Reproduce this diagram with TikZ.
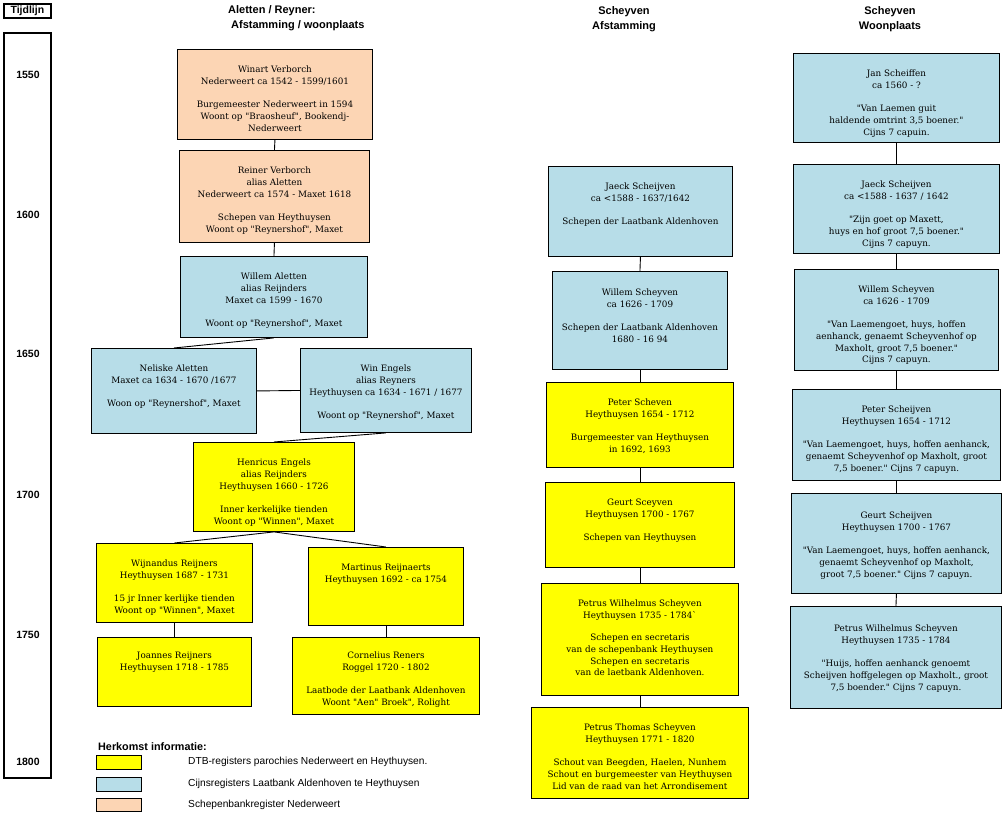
\documentclass[tikz,border=0pt]{standalone}
\usepackage{fontspec}
\setmainfont{DejaVu Serif}[Ligatures=TeXOff]
\setsansfont{Liberation Sans}
\usepackage{xcolor}
\usepackage{tikz}
\usetikzlibrary{positioning}

\begin{document}
\begin{tikzpicture}[x=1pt,y=-1pt,
		kader/.style={draw=black, line width=0.9pt, anchor=north west, inner sep=0pt},
		geel/.style={kader, fill=mygeel},
		blauw/.style={kader, fill=myblauw},
		zalm/.style={kader, fill=myzalm},
		tekst/.style={align=center, inner sep=0pt, font=\fontsize{8.8}{11.8}\selectfont},
		lijn/.style={draw=black, line width=0.9pt},
		kop/.style={align=center, inner sep=0pt, font=\sffamily\bfseries\fontsize{11}{15}\selectfont},
		jaartal/.style={inner sep=0pt, font=\sffamily\bfseries\fontsize{10.5}{12}\selectfont},
		uitleg/.style={anchor=west, inner sep=0pt, font=\sffamily\fontsize{10.2}{12}\selectfont}]
				% kleuren
				\definecolor{mygeel}{RGB}{255,255,0}
				\definecolor{myblauw}{RGB}{183,221,232}
				\definecolor{myzalm}{RGB}{252,213,180}
				\useasboundingbox (0,0) rectangle (1007,821);
				
				% tijdlijn
				\node[draw, line width=1.8pt, anchor=north west, minimum width=47, minimum height=14, inner sep=0pt] (tijdkop) at (3,3) {};
				\node[jaartal] (tijdkop-t) at (tijdkop.center) {Tijdlijn};
				\node[draw, line width=1.8pt, anchor=north west, minimum width=47, minimum height=745, inner sep=0pt] (tijdas) at (3,32) {};
				\foreach \jaar/\ypos in {1550/75,1600/215,1650/354,1700/495,1750/635,1800/762}
				\node[jaartal] (j\jaar) at (28,\ypos) {\jaar};
				
				% koppen
				\node[kop, anchor=north west, align=left] (kopA) at (228,5) {Aletten / Reyner:\\\hspace*{3pt}Afstamming / woonplaats};
				\node[kop] (kopB) at (624,19) {Scheyven\\Afstamming};
				\node[kop] (kopC) at (890,19) {Scheyven\\Woonplaats};
				
				% Aletten / Reyner
				\node[zalm, minimum width=195, minimum height=90] (winart) at (177,49) {};
				\node[tekst, below=17pt of winart.north] (winart-t) {Winart Verborch\\Nederweert ca 1542 - 1599/1601\\[11pt]Burgemeester Nederweert in 1594\\Woont op "Braosheuf", Bookendj-\\Nederweert};
				\node[zalm, minimum width=190, minimum height=92] (reiner) at (179,150) {};
				\node[tekst, below=17pt of reiner.north] (reiner-t) {Reiner Verborch\\alias Aletten\\Nederweert ca 1574 - Maxet 1618\\[11pt]Schepen van Heythuysen\\Woont op "Reynershof", Maxet};
				\node[blauw, minimum width=187, minimum height=81] (willemA) at (180,256) {};
				\node[tekst, below=17pt of willemA.north] (willemA-t) {Willem Aletten\\alias Reijnders\\Maxet ca 1599 - 1670\\[11pt]Woont op "Reynershof", Maxet};
				\node[blauw, minimum width=165, minimum height=85] (neliske) at (91,348) {};
				\node[tekst, below=17pt of neliske.north] (neliske-t) {Neliske Aletten\\Maxet ca 1634 - 1670 /1677\\[11pt]Woon op "Reynershof", Maxet};
				\node[blauw, minimum width=171, minimum height=84] (win) at (300,348) {};
				\node[tekst, below=17pt of win.north] (win-t) {Win Engels\\alias Reyners\\Heythuysen ca 1634 - 1671 / 1677\\[11pt]Woont op "Reynershof", Maxet};
				\node[geel, minimum width=161, minimum height=89] (henricus) at (193,442) {};
				\node[tekst, below=17pt of henricus.north] (henricus-t) {Henricus Engels\\alias Reijnders\\Heythuysen 1660 - 1726\\[11pt]Inner kerkelijke tienden\\Woont op "Winnen", Maxet};
				\node[geel, minimum width=156, minimum height=79] (wijnandus) at (96,543) {};
				\node[tekst, below=17pt of wijnandus.north] (wijnandus-t) {Wijnandus Reijners\\Heythuysen 1687 - 1731\\[11pt]15 jr Inner kerlijke tienden\\Woont op "Winnen", Maxet};
				\node[geel, minimum width=155, minimum height=78] (martinus) at (308,547) {};
				\node[tekst, below=17pt of martinus.north] (martinus-t) {Martinus Reijnaerts\\Heythuysen 1692 - ca 1754};
				\node[geel, minimum width=154, minimum height=69] (joannes) at (97,637) {};
				\node[tekst, below=15pt of joannes.north] (joannes-t) {Joannes Reijners\\Heythuysen 1718 - 1785};
				\node[geel, minimum width=187, minimum height=77] (cornelius) at (292,637) {};
				\node[tekst, below=15pt of cornelius.north] (cornelius-t) {Cornelius Reners\\Roggel 1720 - 1802\\[11pt]Laatbode der Laatbank Aldenhoven\\Woont "Aen" Broek", Rolight};
				
				\draw[lijn] (winart.south) -- (reiner.north);
				\draw[lijn] (reiner.south) -- (willemA.north);
				\draw[lijn] (willemA.south) -- (neliske.north);
				\draw[lijn] (neliske.east) -- (win.west);
				\draw[lijn] (win.south) -- (henricus.north);
				\draw[lijn] (henricus.south) -- (wijnandus.north);
				\draw[lijn] (henricus.south) -- (martinus.north);
				\draw[lijn] (wijnandus.south) -- (joannes.north);
				\draw[lijn] (martinus.south) -- (cornelius.north);
				
				% Scheyven afstamming
				\node[blauw, minimum width=184, minimum height=90] (jaeckA) at (548,166) {};
				\node[tekst, below=17pt of jaeckA.north] (jaeckA-t) {Jaeck Scheijven\\ca <1588 - 1637/1642\\[11pt]Schepen der Laatbank Aldenhoven};
				\node[blauw, minimum width=175, minimum height=98] (willemS) at (552,271) {};
				\node[tekst, below=18pt of willemS.north] (willemS-t) {Willem Scheyven\\ca 1626 - 1709\\[11pt]Schepen der Laatbank Aldenhoven\\1680 - 16 94};
				\node[geel, minimum width=187, minimum height=85] (peterA) at (546,382) {};
				\node[tekst, below=17pt of peterA.north] (peterA-t) {Peter Scheven\\Heythuysen 1654 - 1712\\[11pt]Burgemeester van Heythuysen\\in 1692, 1693};
				\node[geel, minimum width=189, minimum height=85] (geurtA) at (545,482) {};
				\node[tekst, below=17pt of geurtA.north] (geurtA-t) {Geurt Sceyven\\Heythuysen 1700 - 1767\\[11pt]Schepen van Heythuysen};
				\node[geel, minimum width=197, minimum height=112] (petrusA) at (541,583) {};
				\node[tekst, below=17pt of petrusA.north] (petrusA-t) {Petrus Wilhelmus Scheyven\\Heythuysen 1735 - 1784`\\[10pt]Schepen en secretaris\\van de schepenbank Heythuysen\\Schepen en secretaris\\van de laetbank Aldenhoven.};
				\node[geel, minimum width=217, minimum height=91] (thomas) at (531,707) {};
				\node[tekst, below=17pt of thomas.north] (thomas-t) {Petrus Thomas Scheyven\\Heythuysen 1771 - 1820\\[11pt]Schout van Beegden, Haelen, Nunhem\\Schout en burgemeester van Heythuysen\\Lid van de raad van het Arrondisement};
				
				\draw[lijn] (jaeckA.south) -- (willemS.north);
				\draw[lijn] (willemS.south) -- (peterA.north);
				\draw[lijn] (peterA.south) -- (geurtA.north);
				\draw[lijn] (geurtA.south) -- (petrusA.north);
				\draw[lijn] (petrusA.south) -- (thomas.north);
				
				% Scheyven woonplaats
				\node[blauw, minimum width=206, minimum height=89] (jan) at (793,53) {};
				\node[tekst, below=17pt of jan.north] (jan-t) {Jan Scheiffen\\ca 1560 - ?\\[11pt]"Van Laemen guit\\haldende omtrint 3,5 boener."\\Cijns 7 capuin.};
				\node[blauw, minimum width=206, minimum height=89] (jaeckW) at (793,164) {};
				\node[tekst, below=17pt of jaeckW.north] (jaeckW-t) {Jaeck Scheijven\\ca <1588 - 1637 / 1642\\[11pt]"Zijn goet op Maxett,\\huys en hof groot 7,5 boener."\\Cijns 7 capuyn.};
				\node[blauw, minimum width=204, minimum height=101] (willemW) at (794,269) {};
				\node[tekst, below=17pt of willemW.north] (willemW-t) {Willem Scheyven\\ca 1626 - 1709\\[11pt]"Van Laemengoet, huys, hoffen\\aenhanck, genaemt Scheyvenhof op\\Maxholt, groot 7,5 boener."\\Cijns 7 capuyn.};
				\node[blauw, minimum width=208, minimum height=91] (peterW) at (792,389) {};
				\node[tekst, below=17pt of peterW.north] (peterW-t) {Peter Scheijven\\Heythuysen 1654 - 1712\\[11pt]"Van Laemengoet, huys, hoffen aenhanck,\\genaemt Scheyvenhof op Maxholt, groot\\7,5 boener." Cijns 7 capuyn.};
				\node[blauw, minimum width=210, minimum height=100] (geurtW) at (791,493) {};
				\node[tekst, below=19pt of geurtW.north] (geurtW-t) {Geurt Scheijven\\Heythuysen 1700 - 1767\\[11pt]"Van Laemengoet, huys, hoffen aenhanck,\\genaemt Scheyvenhof op Maxholt,\\groot 7,5 boener." Cijns  7 capuyn.};
				\node[blauw, minimum width=211, minimum height=102] (petrusW) at (790,606) {};
				\node[tekst, below=19pt of petrusW.north] (petrusW-t) {Petrus Wilhelmus Scheyven\\Heythuysen 1735 - 1784\\[11pt]"Huijs, hoffen aenhanck genoemt\\Scheijven hoffgelegen op Maxholt., groot\\7,5 boender." Cijns 7 capuyn.};
				
				\draw[lijn] (jan.south) -- (jaeckW.north);
				\draw[lijn] (jaeckW.south) -- (willemW.north);
				\draw[lijn] (willemW.south) -- (peterW.north);
				\draw[lijn] (peterW.south) -- (geurtW.north);
				\draw[lijn] (geurtW.south) -- (petrusW.north);
				
				% legenda
				\node[anchor=west, inner sep=0pt, font=\sffamily\bfseries\fontsize{10.8}{12}\selectfont] (herkomst) at (98,747) {Herkomst informatie:};
				\node[geel, minimum width=45, minimum height=14] (lgeel) at (96,755) {};
				\node[blauw, minimum width=45, minimum height=14] (lblauw) at (96,777) {};
				\node[zalm, minimum width=45, minimum height=13] (lzalm) at (96,798) {};
				\node[uitleg] (lgeel-t) at (188,762) {DTB-registers parochies Nederweert en Heythuysen.};
				\node[uitleg] (lblauw-t) at (188,784) {Cijnsregisters Laatbank Aldenhoven te Heythuysen};
				\node[uitleg] (lzalm-t) at (188,805) {Schepenbankregister Nederweert};
			\end{tikzpicture}
\end{document}
